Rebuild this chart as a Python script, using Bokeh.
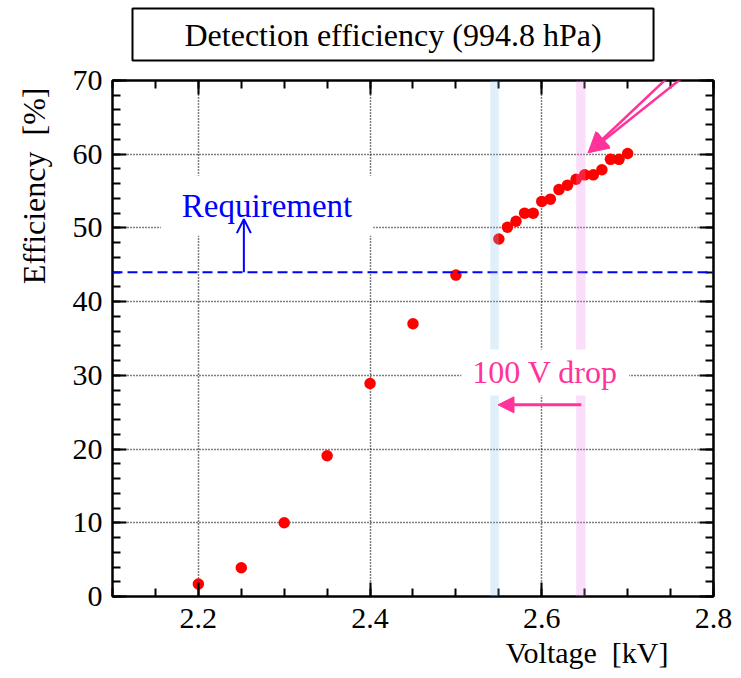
from bokeh.plotting import figure
from bokeh.models import (Range1d, Label, Arrow, NormalHead, OpenHead, Span, Title,
                          LinearAxis, SingleIntervalTicker, BoxAnnotation, PrintfTickFormatter)
from bokeh.embed import file_html
from bokeh.resources import INLINE

# ---------------- data ----------------
voltage = [2.20, 2.25, 2.30, 2.35, 2.40, 2.45, 2.50, 2.55, 2.56, 2.57, 2.58, 2.59,
           2.60, 2.61, 2.62, 2.63, 2.64, 2.65, 2.66, 2.67, 2.68, 2.69, 2.70]
efficiency = [1.7, 3.9, 10.0, 19.1, 28.9, 37.0, 43.6, 48.5, 50.1, 50.9, 52.0, 52.0,
              53.6, 53.9, 55.2, 55.8, 56.6, 57.2, 57.2, 57.9, 59.3, 59.3, 60.1]
requirement = 44.0
band_left = [2.540, 2.640]
band_right = [2.550, 2.651]
band_colors = ["#84c3eb", "#f080ec"]
title_text = "Detection efficiency (994.8 hPa)"
x_title = "Voltage\u00a0\u00a0[kV]"
y_title = "Efficiency\u00a0\u00a0[%]"

FONT = "Liberation Serif"
PINK = "#ff3399"

p = figure(width=741, height=678, x_range=Range1d(2.1, 2.80001), y_range=Range1d(0, 70),
           output_backend="svg", toolbar_location=None,
           min_border_left=110, min_border_right=28, min_border_top=80, min_border_bottom=82)
p.background_fill_color = "white"
p.border_fill_color = "white"
p.outline_line_color = "black"
p.outline_line_width = 2

xt = SingleIntervalTicker(interval=0.2, num_minor_ticks=4)
yt = SingleIntervalTicker(interval=10, num_minor_ticks=5)

bottom = p.xaxis[0]
left = p.yaxis[0]
bottom.ticker = xt
left.ticker = yt

blank = PrintfTickFormatter(format="\u00a0")
top = LinearAxis(ticker=xt, formatter=blank, major_label_text_font_size="10px",
                 major_label_standoff=4)
right = LinearAxis(ticker=yt, formatter=blank, major_label_text_font_size="1px",
                   major_label_standoff=0)
p.add_layout(top, "above")
p.add_layout(right, "right")

for ax in [bottom, left, top, right]:
    ax.axis_line_width = 2
    ax.axis_line_color = "black"
    ax.major_tick_in = 14
    ax.major_tick_out = 0
    ax.minor_tick_in = 8
    ax.minor_tick_out = 0
    ax.major_tick_line_width = 2
    ax.minor_tick_line_width = 2
    ax.major_tick_line_color = "black"
    ax.minor_tick_line_color = "black"

for ax in [bottom, left]:
    ax.major_label_text_font = FONT
    ax.major_label_text_font_size = "30px"
    ax.major_label_text_color = "black"
bottom.major_label_standoff = 12
left.major_label_standoff = 10

p.xgrid.grid_line_color = "black"
p.ygrid.grid_line_color = "black"
p.xgrid.grid_line_dash = "1 2"
p.ygrid.grid_line_dash = "1 2"
p.xgrid.grid_line_width = 1.5
p.ygrid.grid_line_width = 1.5

# data points
p.scatter(voltage, efficiency, size=11.5, color="red", line_color=None)

# requirement line
p.add_layout(Span(location=requirement, dimension="width", line_color="blue",
                  line_width=2, line_dash="10 5"))

# bands drawn on top (faded)
for l, r, c in zip(band_left, band_right, band_colors):
    p.add_layout(BoxAnnotation(left=l, right=r, fill_color=c, fill_alpha=0.25,
                               line_color=None))

# Requirement label
p.add_layout(Label(x=2.28, y=53.0, text="Requirement", text_font=FONT,
                   text_font_size="33px", text_color="blue", text_align="center",
                   text_baseline="middle", background_fill_color="white",
                   padding=(21, 12)))
p.add_layout(Arrow(end=OpenHead(size=14, line_color="blue", line_width=2),
                   x_start=2.253, y_start=requirement, x_end=2.253, y_end=51.2,
                   line_color="blue", line_width=2))

# 100 V drop label + arrow
p.add_layout(Label(x=2.604, y=30.4, text="100 V drop", text_font=FONT,
                   text_font_size="32px", text_color=PINK, text_align="center",
                   text_baseline="middle", background_fill_color="white",
                   padding=(11, 5)))
p.add_layout(Arrow(end=NormalHead(size=16, fill_color=PINK, line_color=PINK),
                   x_start=band_right[1] - 0.005, y_start=26.0,
                   x_end=band_right[0] - 0.001, y_end=26.0,
                   line_color=PINK, line_width=3))

# arrows coming from outside the frame
p.add_layout(Arrow(end=NormalHead(size=20, fill_color=PINK, line_color=PINK),
                   x_start=2.833, y_start=79.9, x_end=2.654, y_end=60.2,
                   line_color=PINK, line_width=2.5))
p.add_layout(Arrow(end=NormalHead(size=20, fill_color=PINK, line_color=PINK),
                   x_start=2.833, y_start=76.8, x_end=2.654, y_end=60.2,
                   line_color=PINK, line_width=2.5))

# title box
p.add_layout(Title(text=title_text, text_font=FONT, text_font_size="32px",
                   text_font_style="normal", text_color="black", align="left",
                   offset=20, background_fill_color="white",
                   border_line_color="black", border_line_width=2,
                   padding=(52, 8), standoff=0, vertical_align="top"), "above")

# axis titles
p.add_layout(Title(text=x_title, text_font=FONT, text_font_size="30px",
                   text_font_style="normal", text_color="black", align="right",
                   offset=45, standoff=6), "below")
p.add_layout(Title(text=y_title, text_font=FONT, text_font_size="32px",
                   text_font_style="normal", text_color="black", align="right",
                   offset=7, standoff=31, vertical_align="top"), "left")

open("out.html", "w").write(file_html(p, INLINE))
